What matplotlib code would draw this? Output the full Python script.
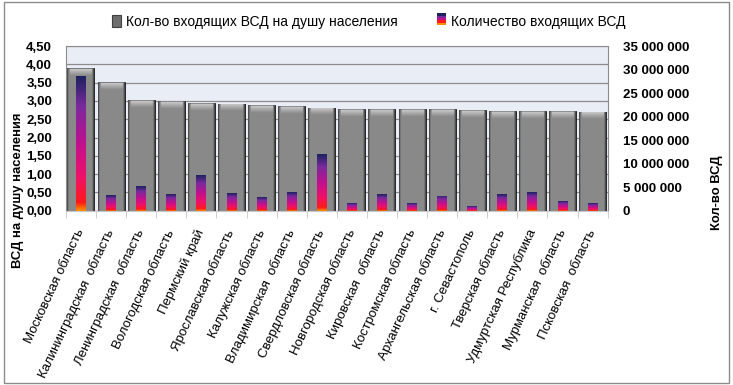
import numpy as np
import matplotlib
matplotlib.use('Agg')
import matplotlib.pyplot as plt
from matplotlib.patches import Rectangle, Patch
from matplotlib.legend_handler import HandlerBase
from matplotlib.colors import LinearSegmentedColormap

plt.rcParams['font.family'] = ['Liberation Sans', 'DejaVu Sans']

regions = ['Московская область', 'Калининградская  область', 'Ленинградская  область',
           'Вологодская область', 'Пермский край', 'Ярославская область',
           'Калужская область', 'Владимирская  область', 'Свердловская область',
           'Новгородская область', 'Кировская  область', 'Костромская область',
           'Архангельская область', 'г. Севастополь', 'Тверская область',
           'Удмуртская Республика', 'Мурманская  область', 'Псковская  область']
per_capita = [3.89, 3.51, 3.02, 2.99, 2.94, 2.93, 2.88, 2.85, 2.82, 2.77,
              2.77, 2.77, 2.77, 2.74, 2.72, 2.72, 2.72, 2.71]
total_vsd = [28700000, 3300000, 5200000, 3500000, 7600000, 3800000, 2900000,
             4000000, 12000000, 1600000, 3500000, 1600000, 3200000, 1000000,
             3500000, 4000000, 2000000, 1600000]

n = len(regions)
x = np.arange(n)

grad_cmap = LinearSegmentedColormap.from_list(
    'vsd', [(0.0, '#ff9000'), (0.06, '#ff1a1a'), (0.25, '#f0106a'),
            (0.5, '#c0108f'), (0.78, '#7a2a9c'), (1.0, '#1c2260')])


def gray_bevel(h, bevel, nrows=400, ncols=60):
    xs = np.linspace(0, 1, ncols)
    side = np.ones(ncols) * 0.54
    side = np.where(xs < 0.06, 0.25 + xs / 0.06 * 0.29, side)
    side = np.where(xs > 0.90, 0.54 - (xs - 0.90) / 0.10 * 0.42, side)
    img = np.tile(side, (nrows, 1))
    ys = np.linspace(0, h, nrows)
    t = np.clip((ys - (h - bevel)) / bevel, 0, 1)
    for i in np.where(ys > h - bevel)[0]:
        img[i, 6:-6] = 0.54 + 0.28 * t[i]
    img[-2:, :] = 0.35
    return np.dstack([img, img, img])


fig = plt.figure(figsize=(7.33, 3.85), dpi=100)
ax = fig.add_axes([0.090, 0.453, 0.739, 0.427])
ax2 = ax.twinx()

ax.set_facecolor('#e9edf6')
ax.set_yticks(np.arange(0, 4.51, 0.5))
ax2.set_yticks(np.arange(0, 35000001, 5000000))
ax.yaxis.grid(True, color='#8c8c8c', linewidth=0.9)
ax.set_axisbelow(True)

bevel = 0.2
bars = ax.bar(x, per_capita, width=0.9, color='#8a8a8a', edgecolor='none', zorder=2)
for b, h in zip(bars, per_capita):
    im = ax.imshow(gray_bevel(h, bevel), extent=[b.get_x(), b.get_x() + b.get_width(), 0, h],
                   origin='lower', aspect='auto', zorder=2.5, interpolation='bilinear')
    im.set_clip_path(b)

nb = ax2.bar(x, total_vsd, width=0.33, color='#a01090', edgecolor='none', zorder=3)
for b, h in zip(nb, total_vsd):
    g = np.linspace(0, 1, 200).reshape(-1, 1)
    im = ax2.imshow(g, cmap=grad_cmap, extent=[b.get_x(), b.get_x() + b.get_width(), 0, h],
                    origin='lower', aspect='auto', zorder=3.5)
    im.set_clip_path(b)

ax.set_xlim(-0.5, n - 0.5)
ax.set_ylim(0, 4.5)
ax2.set_ylim(0, 35000000)

ax.set_yticklabels(['{:.2f}'.format(v).replace('.', ',') for v in np.arange(0, 4.51, 0.5)],
                   fontsize=9.5, fontweight='bold')
ax2.set_yticklabels(['{:,}'.format(int(v)).replace(',', ' ') for v in np.arange(0, 35000001, 5000000)],
                    fontsize=9.5, fontweight='bold')
ax.tick_params(axis='y', length=0, pad=10)
ax2.tick_params(axis='y', length=0, pad=11)

ax.set_xticks(np.arange(-0.5, n, 1.0), minor=True)
ax.set_xticks(x)
ax.set_xticklabels(regions, rotation=65, ha='right', va='center', rotation_mode='anchor',
                   fontsize=9.5)
ax.tick_params(axis='x', which='major', length=0, pad=14)
ax.tick_params(axis='x', which='minor', length=5, color='#c8c8c8')

for a in (ax, ax2):
    for s in a.spines.values():
        s.set_visible(False)
for side in ('top', 'left', 'right'):
    ax.spines[side].set_visible(True)
    ax.spines[side].set_color('#8c8c8c')
ax.spines['bottom'].set_visible(True)
ax.spines['bottom'].set_color('#c8c8c8')

fig.text(0.025, 0.505, 'ВСД на душу населения', rotation=90, ha='center', va='center',
         fontsize=9.4, fontweight='bold')
fig.text(0.978, 0.50, 'Кол-во ВСД', rotation=90, ha='center', va='center',
         fontsize=9.4, fontweight='bold')


class GradHandler(HandlerBase):
    def create_artists(self, legend, orig_handle, xd, yd, w, h, fontsize, trans):
        arts = []
        cols = ['#ff9000', '#ff1a1a', '#c0108f', '#7a2a9c', '#1c2260']
        k = len(cols)
        for i, c in enumerate(cols):
            arts.append(Rectangle((xd, yd + h * i / k), w, h / k, facecolor=c,
                                  edgecolor='none', transform=trans))
        return arts


h1 = Patch(facecolor='#6e6e6e', edgecolor='#404040', linewidth=0.8)
h2 = Patch(facecolor='#7a2a9c')
fig.legend([h1, h2], ['Кол-во входящих ВСД на душу населения', 'Количество входящих ВСД'],
           loc='center', bbox_to_anchor=(0.503, 0.943), ncol=2, frameon=False,
           handlelength=0.65, handleheight=0.9, handletextpad=0.35, columnspacing=2.8,
           fontsize=10, handler_map={h2: GradHandler()})

fig.patches.append(Rectangle((0.006, 0.006), 0.988, 0.988, transform=fig.transFigure,
                             fill=False, edgecolor='#8c8c8c', linewidth=1.0))

fig.savefig('out.png', dpi=100)
